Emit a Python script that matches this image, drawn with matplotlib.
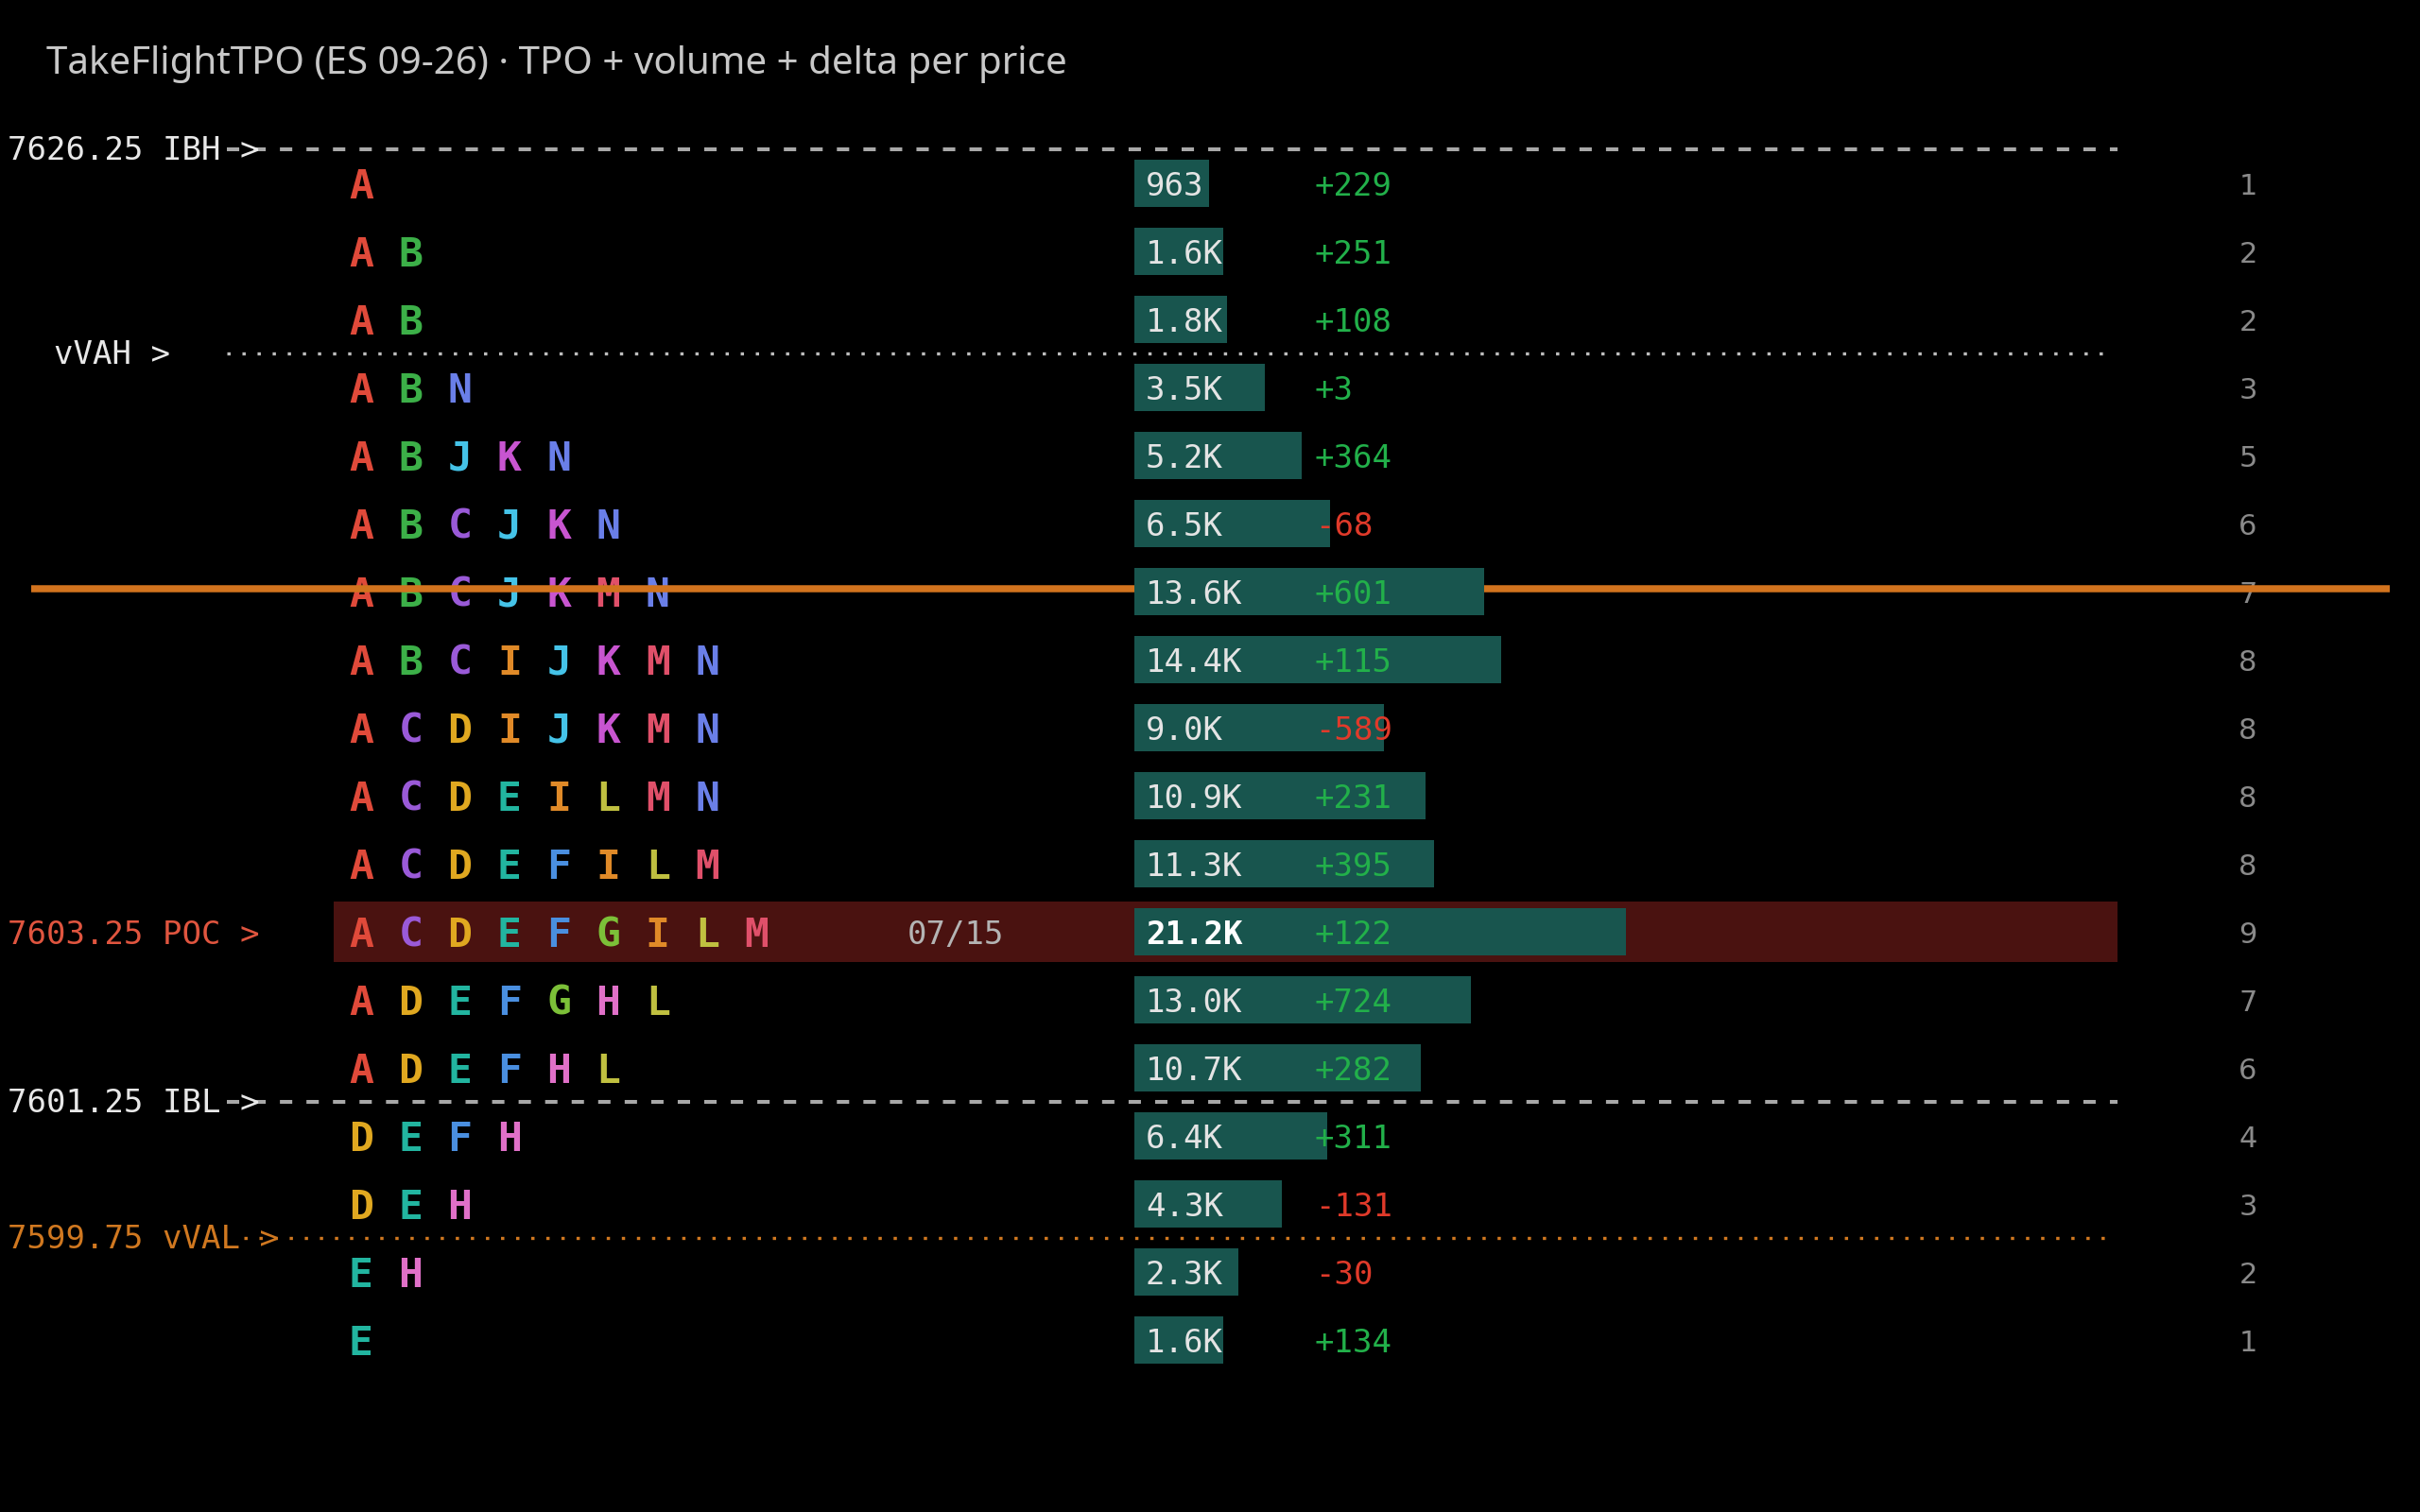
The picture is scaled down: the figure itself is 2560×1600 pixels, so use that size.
import matplotlib
matplotlib.use("Agg")
import matplotlib.pyplot as plt
import matplotlib.transforms as mtransforms
import numpy as np

# ==========================================
# DATA
# ==========================================

TITLE = "TakeFlightTPO (ES 09-26) · TPO + volume + delta per price"

tpo_rows = [
    "A", "AB", "AB", "ABN", "ABJKN", "ABCJKN", "ABCJKMN", "ABCIJKMN",
    "ACDIJKMN", "ACDEILMN", "ACDEFILM", "ACDEFGILM", "ADEFGHL", "ADEFHL",
    "DEFH", "DEH", "EH", "E",
]
volumes = [963, 1600, 1800, 3500, 5200, 6500, 13600, 14400, 9000, 10900,
           11300, 21200, 13000, 10700, 6400, 4300, 2300, 1600]
deltas = [229, 251, 108, 3, 364, -68, 601, 115, -589, 231, 395, 122, 724,
          282, 311, -131, -30, 134]
tpo_counts = [1, 2, 2, 3, 5, 6, 7, 8, 8, 8, 8, 9, 7, 6, 4, 3, 2, 1]

poc_row = 12
poc_note = "07/15"
last_price_row = 7

# key levels: label, row boundary, kind
level_labels = ["7626.25 IBH >", "vVAH >", "7601.25 IBL >", "7599.75 vVAL >"]
level_rows = [0.5, 3.5, 14.5, 16.5]
level_kinds = ["ib", "va", "ib", "va"]
poc_label = "7603.25 POC >"

letter_colors = {
    "A": "#e04a3a", "B": "#3cb048", "C": "#9a5ad8", "D": "#e0a820",
    "E": "#22b5a0", "F": "#4a8fe0", "G": "#7cc038", "H": "#e070c8",
    "I": "#e08a28", "J": "#45c3e8", "K": "#c855d0", "L": "#c0c040",
    "M": "#e0506a", "N": "#6a7fe8",
}

# ==========================================
# LAYOUT (pixel columns of the 2560x1600 canvas)
# ==========================================

W, H = 2560, 1600
ROW1_Y = 194
ROW_H = 72
TXT_DY = 0.045      # nudge text centres down onto the row centre
LETTER_X0 = 369
LETTER_DX = 52.3
VOL_X0, VOL_X1 = 1200, 1720
VOL_TEXT_X = 1212
DELTA_X = 1391
COUNT_X = 2378
NOTE_X = 960
LINE_X1 = 2240
POC_X0, POC_X1 = 353, 2240
VOL_PAD = 2480      # minimum bar width in volume units
VOL_CAP = 20130     # bars are clipped here

BG = "black"
BAR_COLOR = "#18554e"
POC_BG = "#4a1210"
GREEN = "#22b04a"
RED = "#e03a2a"
ORANGE = "#d2731e"
MONO = "DejaVu Sans Mono"

plt.rcParams["lines.scale_dashes"] = False

fig = plt.figure(figsize=(W / 100, H / 100), dpi=100, facecolor=BG)
ax = fig.add_axes([0, 0, 1, 1], facecolor=BG)
ax.set_xlim(0, W)
y_top = 1 - ROW1_Y / ROW_H
y_bot = 1 + (H - ROW1_Y) / ROW_H
ax.set_ylim(y_bot, y_top)
ax.axis("off")

vax = fig.add_axes([VOL_X0 / W, 0, (VOL_X1 - VOL_X0) / W, 1], facecolor="none")
vax.set_xlim(-VOL_PAD, VOL_CAP)
vax.set_ylim(y_bot, y_top)
vax.axis("off")
vax.set_zorder(2)

rows = np.arange(1, len(volumes) + 1)

# title
fig.text(49 / W, 1 - 68 / H, TITLE, color="#c8c8c8", fontsize=29,
         family="Noto Sans", ha="left", va="center")

# POC highlight
ax.barh(poc_row, POC_X1 - POC_X0, left=POC_X0, height=0.89, color=POC_BG,
        zorder=0)
ax.text(8, poc_row + TXT_DY, poc_label, color="#e0553f", fontsize=24.5,
        family=MONO, ha="left", va="center")
ax.text(NOTE_X, poc_row + TXT_DY, poc_note, color="#b4b4b4", fontsize=24.5,
        family=MONO, ha="left", va="center")

# TPO letters
for r, letters in zip(rows, tpo_rows):
    for k, ch in enumerate(letters):
        ax.text(LETTER_X0 + k * LETTER_DX, r + 0.05, ch, color=letter_colors[ch],
                fontsize=31, family=MONO, weight="bold", ha="left",
                va="center", zorder=2)

# TPO counts
for r, c in zip(rows, tpo_counts):
    ax.text(COUNT_X, r + TXT_DY, str(c), color="#8a8a8a", fontsize=22,
            family="DejaVu Sans", ha="center", va="center", zorder=2)

# key levels
for lab, lr, kind in zip(level_labels, level_rows, level_kinds):
    if kind == "ib":
        color, x0, dashes, lw = "#a8a8a8", 240, (9.4, 10.8), 2.9
        tcolor = "#e8e8e8"
    else:
        if lab.startswith("vVAH"):
            color, tcolor, x0 = "#bdbdbd", "#e8e8e8", 240
        else:
            color, tcolor, x0 = "#d07820", "#d07820", 258
        dashes, lw = (2.5, 9.0), 2.4
    tx = 57 if lab.startswith("vVAH") else 8
    ax.plot([x0, LINE_X1 if kind == "ib" else LINE_X1 - 11], [lr, lr],
            color=color, lw=lw, dashes=dashes, zorder=3)
    ax.text(tx, lr + TXT_DY / 2, lab, color=tcolor, fontsize=24.5, family=MONO,
            ha="left", va="center", zorder=4)

# last price line
ax.plot([33, 2528], [last_price_row - 0.04, last_price_row - 0.04],
        color=ORANGE, lw=5.4, solid_capstyle="butt", zorder=5)

# volume bars
vax.barh(rows, np.array(volumes) + VOL_PAD, left=-VOL_PAD, height=0.70,
         color=BAR_COLOR, zorder=1)

tr = mtransforms.blended_transform_factory(ax.transData, vax.transData)
for r, v, d in zip(rows, volumes, deltas):
    vlab = str(v) if v < 1000 else f"{v / 1000:.1f}K"
    is_poc = r == poc_row
    vax.text(VOL_TEXT_X, r + TXT_DY, vlab, transform=tr,
             color="white" if is_poc else "#e4e4e4", fontsize=24.5,
             family=MONO, weight="bold" if is_poc else "normal",
             ha="left", va="center", zorder=3)
    vax.text(DELTA_X, r + TXT_DY, f"{d:+d}", transform=tr,
             color=GREEN if d >= 0 else RED, fontsize=24.5, family=MONO,
             ha="left", va="center", zorder=3)

fig.savefig("out.png", dpi=100, facecolor=BG)
